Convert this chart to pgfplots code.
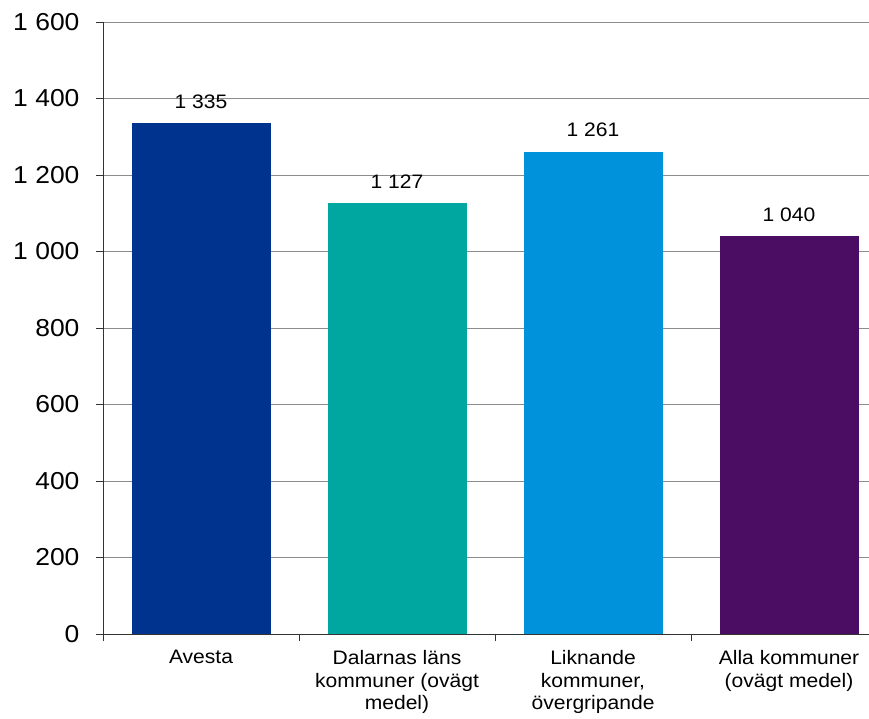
\documentclass[border=0pt]{standalone}
\usepackage{fontspec}
\setmainfont{Liberation Sans}[FakeStretch=1.08]
\usepackage{pgfplots}
\pgfplotsset{compat=1.18}
\definecolor{cAvesta}{RGB}{0,51,141}
\definecolor{cDal}{RGB}{0,166,160}
\definecolor{cLik}{RGB}{0,146,218}
\definecolor{cAlla}{RGB}{75,12,100}
\definecolor{gridc}{RGB}{140,140,140}
\begin{document}
\begin{tikzpicture}
\begin{axis}[
  at={(0pt,0pt)}, anchor=south west,
  scale only axis,
  width=766pt, height=612pt,
  xmin=-0.5, xmax=3.408,
  ymin=0, ymax=1600,
  ytick={0,200,...,1600},
  xtick={0,1,2,3},
  xticklabels={Avesta,{Dalarnas läns\\kommuner (ovägt\\medel)},{Liknande\\kommuner,\\övergripande},{Alla kommuner\\(ovägt medel)}},
  minor xtick={-0.5,0.5,1.5,2.5},
  major x tick style={draw=none},
  tick align=outside,
  major tick length=7pt,
  minor tick length=7pt,
  tick style={black!80, line width=0.8pt},
  axis x line*=bottom,
  axis y line*=left,
  axis line style={black!80, line width=0.8pt},
  ymajorgrids,
  grid style={gridc, line width=0.8pt},
  /pgf/number format/assume math mode=true,
  /pgf/number format/1000 sep={\ },
  yticklabel style={font=\fontsize{24.5}{28}\selectfont, xshift=-13pt},
  xticklabel style={font=\fontsize{19.5}{22.5}\selectfont, align=center, anchor=north, yshift=-6pt},
  ybar, bar width=139pt, bar shift=0pt,
  nodes near coords,
  every node near coord/.append style={font=\fontsize{19.5}{22}\selectfont, black, yshift=11pt},
]
\addplot[fill=cAvesta, draw=none] coordinates {(0,1335)};
\addplot[fill=cDal, draw=none] coordinates {(1,1127)};
\addplot[fill=cLik, draw=none] coordinates {(2,1261)};
\addplot[fill=cAlla, draw=none] coordinates {(3,1040)};
\end{axis}
\pgfresetboundingbox
\path[use as bounding box] (-103pt,-85pt) rectangle (766pt,634pt);
\end{tikzpicture}
\end{document}
